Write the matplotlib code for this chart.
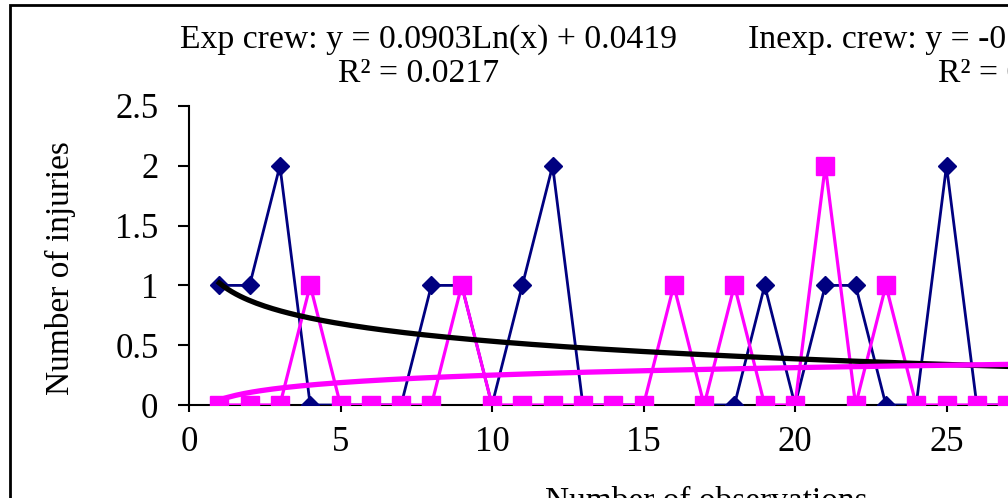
# injuries per observation, experienced vs inexperienced crew, with log trendlines
import numpy as np
import matplotlib
matplotlib.use('Agg')
import matplotlib.pyplot as plt
from matplotlib.patches import Rectangle

plt.rcParams['font.family'] = ['Liberation Serif', 'DejaVu Serif']

# observation number
obs = [1, 2, 3, 4, 5, 6, 7, 8, 9, 10, 11, 12, 13, 14, 15, 16, 17, 18, 19, 20,
       21, 22, 23, 24, 25, 26, 27]
# navy diamonds (no value at observation 16)
navy_inj = [1, 1, 2, 0, 0, 0, 0, 1, 1, 0, 1, 2, 0, 0, 0, np.nan, 0, 0, 1, 0,
            1, 1, 0, 0, 2, 0, 0]
# magenta squares
pink_inj = [0, 0, 0, 1, 0, 0, 0, 0, 1, 0, 0, 0, 0, 0, 0, 1, 0, 1, 0, 0,
            2, 0, 1, 0, 0, 0, 0]

# trendline coefficients y = slope*ln(x) + icpt
exp_slope, exp_icpt = 0.0903, 0.0419
inexp_slope, inexp_icpt = -0.2117, 1.0204

W, H = 1008, 498
fig = plt.figure(figsize=(W / 100, H / 100), dpi=100)

# plot area runs off the right edge of the picture (cropped chart)
x0, y0, ytop = 189, 405, 106
px_per_unit = 30.3
xmax = 35
ax = fig.add_axes([x0 / W, (H - y0) / H, xmax * px_per_unit / W, (y0 - ytop) / H])

ax.plot(obs, navy_inj, color='#000080', lw=2, marker='D', ms=9.5, mec='#000080', zorder=3)
ax.plot(obs, pink_inj, color='#FF00FF', lw=2.3, marker='s', ms=13, mec='#FF00FF', zorder=4)

xt = np.linspace(1, obs[-1] + 1, 200)
ax.plot(xt, inexp_slope * np.log(xt) + inexp_icpt, color='black', lw=3.8, zorder=5)
ax.plot(xt, exp_slope * np.log(xt) + exp_icpt, color='#FF00FF', lw=3.8, zorder=6)

ax.set_xlim(0, xmax)
ax.set_ylim(0, 2.5)
ax.set_xticks(range(0, xmax + 1, 5))
ax.set_yticks([0, 0.5, 1, 1.5, 2, 2.5])
ax.set_yticklabels(['0', '0.5', '1', '1.5', '2', '2.5'])
for s in ['top', 'right']:
    ax.spines[s].set_visible(False)
for s in ['left', 'bottom']:
    ax.spines[s].set_linewidth(1.5)
ax.tick_params(axis='y', direction='out', length=8, width=1.5, pad=14, labelsize=25)
ax.tick_params(axis='x', direction='out', length=5, width=1.5, pad=10, labelsize=25)
for lab in ax.get_xticklabels() + ax.get_yticklabels():
    lab.set_clip_on(False)

# y label and the cut-off x label
fig.text(60 / W, 1 - 268 / H, 'Number of injuries', rotation=90, fontsize=24,
         ha='center', va='center')
fig.text(545 / W, 1 - 486 / H, 'Number of observations', fontsize=24,
         ha='left', va='top')

# trendline equations
fig.text(180 / W, 1 - 48 / H, 'Exp crew: y = 0.0903Ln(x) + 0.0419', fontsize=24.3,
         ha='left', va='baseline')
fig.text(338 / W, 1 - 82 / H, 'R\u00b2 = 0.0217', fontsize=24.3, ha='left', va='baseline')
fig.text(748 / W, 1 - 48 / H, 'Inexp. crew: y = -0.2117Ln(x) + 1.0204', fontsize=24.3,
         ha='left', va='baseline')
fig.text(938 / W, 1 - 82 / H, 'R\u00b2 = 0.0983', fontsize=24.3, ha='left', va='baseline')

# chart area border
fig.patches.append(Rectangle((10 / W, -0.2), 1.2, 1 - 5 / H + 0.2, transform=fig.transFigure,
                             fill=False, ec='black', lw=2))

fig.savefig('out.png', dpi=100)
